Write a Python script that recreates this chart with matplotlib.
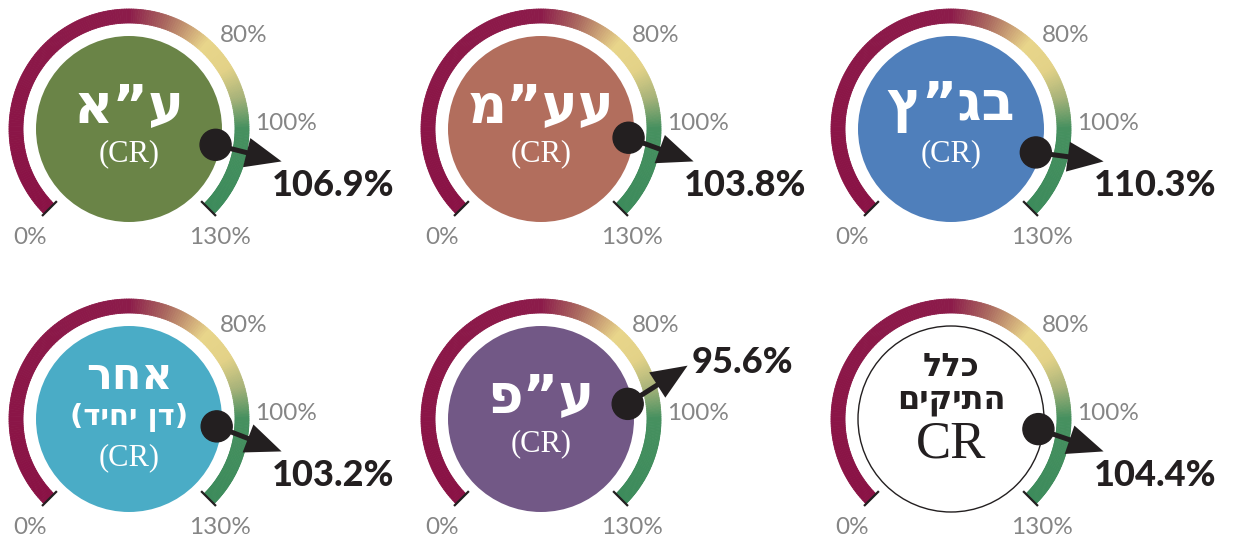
import numpy as np
import matplotlib
matplotlib.use("Agg")
import matplotlib.pyplot as plt
from matplotlib.patches import Circle, FancyArrow
from matplotlib.collections import PolyCollection
from matplotlib.colors import LinearSegmentedColormap

# --- data ---
titles = [["ע”א"], ["עע”מ"], ["בג”ץ"], ["אחר", "(דן יחיד)"], ["ע”פ"], ["כלל", "התיקים"]]
cr_values = [106.9, 103.8, 110.3, 103.2, 95.6, 104.4]
circle_colors = ["#6A8447", "#B26E5D", "#4F7FBB", "#4AACC6", "#725886", "white"]
scale_ticks = [0, 80, 100, 130]
scale_tick_labels = ["0%", "80%", "100%", "130%"]

# scale: value -> angle on the dial (deg, ccw from +x)
scale_breaks = [0, 100, 130]
angle_breaks = [225, 0, -45]

# gradient along the ring (value, colour)
ring_stops = [(0, "#8A1245"), (60, "#8C1B4A"), (69, "#AC6C60"), (79, "#E8D58A"),
              (86, "#E3D287"), (93, "#A8B37A"), (100, "#46905F"), (130, "#3C8B5B")]
cmap = LinearSegmentedColormap.from_list("gauge", [(v / 130, c) for v, c in ring_stops])

DARK = "#231F20"
GRAY = "#858585"
HEB = ["DejaVu Sans"]
SERIF = ["Liberation Serif", "DejaVu Serif"]
NUM = ["Lato", "DejaVu Sans"]

col_x = [129, 541, 951]
row_y = [411, 121]

R_OUT, R_IN, R_CIRCLE, R_DOT = 120, 106, 93, 88
# where the scale labels sit (radius, angle nudge) - just layout
label_r = [147, 148, 157, 142]
label_nudge = [2.5, -6, 2, -5]


def ang(v):
    return np.interp(v, scale_breaks, angle_breaks)


def polar(cx, cy, r, a):
    t = np.deg2rad(a)
    return cx + r * np.cos(t), cy + r * np.sin(t)


def rtl(s):
    # matplotlib has no bidi, so draw hebrew reversed
    mirror = {"(": ")", ")": "("}
    return "".join(mirror.get(c, c) for c in reversed(s))


fig = plt.figure(figsize=(12.36, 5.40), dpi=100)
ax = fig.add_axes([0, 0, 1, 1])
ax.set_xlim(0, 1236)
ax.set_ylim(0, 540)
ax.set_aspect("equal")
ax.axis("off")

for i, v in enumerate(cr_values):
    cx = col_x[i % 3]
    cy = row_y[i // 3]

    # gradient ring
    edges = np.linspace(0, 130, 261)
    polys, cols = [], []
    for a0, a1 in zip(edges[:-1], edges[1:]):
        th = np.linspace(ang(a0), ang(a1), 4)
        outer = [polar(cx, cy, R_OUT, t) for t in th]
        inner = [polar(cx, cy, R_IN, t) for t in th[::-1]]
        polys.append(outer + inner)
        cols.append(cmap((a0 + a1) / 2 / 130))
    ax.add_collection(PolyCollection(polys, facecolors=cols, edgecolors=cols, linewidths=0.6))

    # end ticks
    for tv in (0, 130):
        x0, y0 = polar(cx, cy, 102, ang(tv))
        x1, y1 = polar(cx, cy, 123, ang(tv))
        ax.plot([x0, x1], [y0, y1], color=DARK, lw=1.6, solid_capstyle="butt")

    # scale labels
    for k, (tv, tl) in enumerate(zip(scale_ticks, scale_tick_labels)):
        x, y = polar(cx, cy, label_r[k], ang(tv) + label_nudge[k])
        ax.text(x, y, tl, ha="center", va="center", fontsize=17.5, color=GRAY,
                family=NUM)

    # inner disc
    if circle_colors[i] == "white":
        ax.add_patch(Circle((cx, cy), R_CIRCLE, facecolor="white", edgecolor=DARK, lw=1.0))
    else:
        ax.add_patch(Circle((cx, cy), R_CIRCLE, facecolor=circle_colors[i], edgecolor="none"))

    # titles
    t = titles[i]
    if len(t) == 1:
        ax.text(cx, cy + 22, rtl(t[0]), ha="center", va="center", fontsize=39,
                fontweight="bold", color="white", family=HEB)
        ax.text(cx, cy - 25, "(CR)", ha="center", va="center", fontsize=22,
                color="white", family=SERIF)
    elif circle_colors[i] == "white":
        ax.text(cx, cy + 52, rtl(t[0]), ha="center", va="center", fontsize=23,
                fontweight="bold", color=DARK, family=HEB)
        ax.text(cx, cy + 19, rtl(t[1]), ha="center", va="center", fontsize=23,
                fontweight="bold", color=DARK, family=HEB)
        ax.text(cx, cy - 26, "CR", ha="center", va="center", fontsize=38,
                color=DARK, family=SERIF)
    else:
        ax.text(cx, cy + 42, rtl(t[0]), ha="center", va="center", fontsize=31,
                fontweight="bold", color="white", family=HEB)
        ax.text(cx, cy + 1, rtl(t[1]), ha="center", va="center", fontsize=21,
                fontweight="bold", color="white", family=HEB)
        ax.text(cx, cy - 39, "(CR)", ha="center", va="center", fontsize=22,
                color="white", family=SERIF)

    # needle: dot on the disc edge, arrow out to the value
    dx, dy = polar(cx, cy, R_DOT, ang(v))
    tip_a = -12 if v >= 100 else 20
    tx, ty = polar(cx, cy, 156, tip_a)
    ax.add_patch(FancyArrow(dx, dy, tx - dx, ty - dy, width=5, head_width=30,
                            head_length=36, length_includes_head=True,
                            color=DARK, zorder=4, lw=0))
    ax.add_patch(Circle((dx, dy), 15.5, color=DARK, zorder=5))

    if v >= 100:
        ax.text(tx - 10, ty - 24, f"{v}%", ha="left", va="center", fontsize=26,
                fontweight="black", color=DARK, family=NUM)
    else:
        ax.text(tx + 4, ty + 3, f"{v}%", ha="left", va="center", fontsize=26,
                fontweight="black", color=DARK, family=NUM)

fig.savefig("out.png", dpi=100)
